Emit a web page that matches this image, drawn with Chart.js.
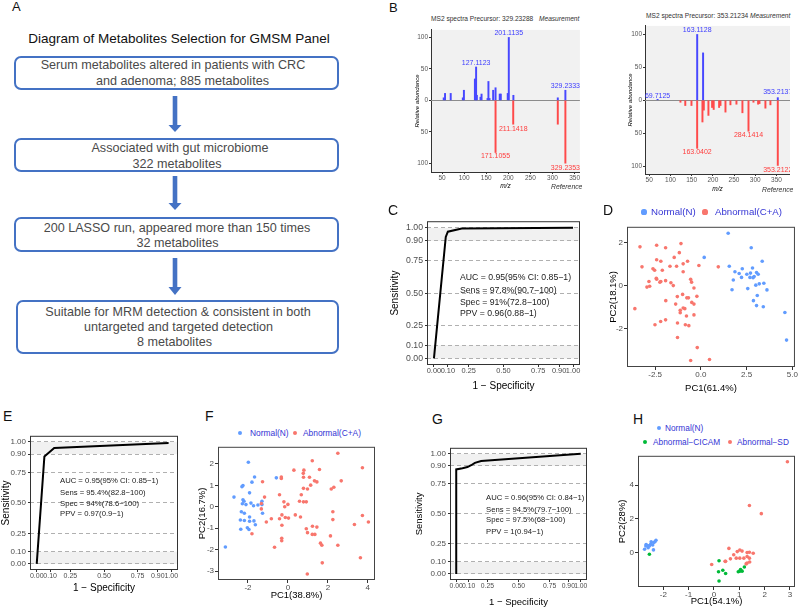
<!DOCTYPE html>
<html>
<head>
<meta charset="utf-8">
<script src="https://cdn.jsdelivr.net/npm/chart.js@4.4.1/dist/chart.umd.min.js"></script>
<style>
  body { margin: 0; }
  #fig { position: relative; width: 798px; height: 608px; background: #fff; overflow: hidden;
         font-family: "Liberation Sans", Arial, sans-serif; }
  #fig canvas { position: absolute; }
  .t { position: absolute; white-space: nowrap; line-height: 1; }
  .box { position: absolute; border: 2px solid #4472c4; border-radius: 7px; box-sizing: border-box; }
  .dot { position: absolute; border-radius: 50%; }
</style>
</head>
<body>
<div id="fig">
  <div class="box" style="left:14px;top:56px;width:325px;height:34px"></div>
  <div class="box" style="left:14px;top:138px;width:325px;height:34px"></div>
  <div class="box" style="left:14px;top:217px;width:325px;height:35px"></div>
  <div class="box" style="left:16px;top:300px;width:323px;height:54px"></div>
  <svg style="position:absolute;left:0;top:0" width="350" height="360">
    <g fill="#4472c4">
      <rect x="172.7" y="96" width="4.6" height="29"/><polygon points="168.5,125 181.5,125 175,132"/>
      <rect x="172.7" y="176" width="4.6" height="27"/><polygon points="168.5,203 181.5,203 175,210"/>
      <rect x="172.7" y="258" width="4.6" height="29"/><polygon points="168.5,287 181.5,287 175,295"/>
    </g>
  </svg>
</div>
<script>
// ---- data ----
// A: selection steps (text lines of each box)
const steps = [
  ['Serum metabolites altered in patients with CRC', 'and adenoma; 885 metabolites'],
  ['Associated with gut microbiome', '322 metabolites'],
  ['200 LASSO run, appeared more than 150 times', '32 metabolites'],
  ['Suitable for MRM detection & consistent in both', 'untargeted and targeted detection', '8 metabolites']
];

// B: MS2 spectra, [m/z, relative abundance]; reference peaks point down
const ms1Measured = [[53.8,4],[56.8,11],[69.6,11],[97,4],[99.5,16],[124.4,34],[127.1,53],[128.8,8],[137,5],
  [139.4,10],[153,3],[155,30],[157.4,3],[165.7,16],[171.1,20],[180.6,10],[183,10],[198.7,11],[201.1,100],
  [211.5,8],[312,4],[329.2,16]];
const ms1Reference = [[171.1,-83],[211.1,-38],[312,-38],[329.2,-100]];
const ms1Labels = [[201.1,107,'201.1135'],[127.1,60,'127.1123'],[329.2,22,'329.2333'],
  [211.1,-45,'211.1418'],[171.1,-89,'171.1055'],[329.2,-108,'329.2353']];

const ms2Measured = [[69.7,1.5],[163.1,100],[177,72],[353.2,4]];
const ms2Reference = [[123.6,-3],[135,-8],[149.6,-8],[163,-73],[175.5,-33],[178.7,-15],[189.6,-23],[198.3,-11],
  [202,-14],[214.8,-11],[218,-8],[229.8,-18],[241.5,-7],[255.7,-6],[269.8,-19],[284.1,-47],[295.8,-3],
  [306.8,-6],[310,-5],[324,-12],[335.8,-7],[353.2,-99]];
const ms2Labels = [[163.1,106,'163.1128'],[69.7,7,'69.7125'],[353.2,12,'353.2137'],
  [163,-79,'163.0402'],[284.1,-53.5,'284.1414'],[353.2,-106,'353.2122']];
const mzTicks = [50, 100, 150, 200, 250, 300, 350];
const abundTicks = [-100, -50, 0, 50, 100];

// C, E, G: ROC curves, [1 - specificity, sensitivity]
const rocTicks = [0, 0.1, 0.25, 0.5, 0.75, 0.9, 1];
const rocC = [[0,0],[0.085,0.93],[0.1,0.97],[0.2,0.995],[1,1]];
const rocE = [[0,0],[0.057,0.88],[0.13,0.95],[0.98,0.99]];
const rocG = [[0,0],[0,0.87],[0.05,0.88],[0.09,0.89],[0.12,0.905],[0.15,0.925],[0.2,0.94],[1,1]];
const rocCText = ['AUC = 0.95(95% CI: 0.85−1)', 'Sens = 97.8%(90.7−100)', 'Spec = 91%(72.8−100)', 'PPV = 0.96(0.88−1)'];
const rocEText = ['AUC = 0.95(95% CI: 0.85−1)', 'Sens = 95.4%(82.8−100)', 'Spec = 94%(78.6−100)', 'PPV = 0.97(0.9−1)'];
const rocGText = ['AUC = 0.96(95% CI: 0.84−1)', 'Sens = 94.5%(79.7−100)', 'Spec = 97.5%(68−100)', 'PPV = 1(0.94−1)'];

// D, F, H: PCA scores, [PC1, PC2]
const pcaDNormal = [[1.49,2.43],[2.75,1.76],[0.18,1.31],[3.35,1.13],[1.55,0.9],[2.26,0.78],[2.82,0.82],[1.86,0.64],
  [2.09,0.56],[2.51,0.53],[2.71,0.58],[3.04,0.61],[3.13,0.53],[2.91,0.42],[2.22,0.38],[2.68,0.38],[2.85,0.37],
  [1.77,0.26],[3.19,0.08],[3.44,0.11],[3.0,0.02],[1.7,-0.19],[2.56,-0.14],[3.61,-0.2],[3.08,-0.46],[2.87,-0.7],
  [3.04,-0.93],[3.41,-0.98],[4.59,-1.25],[4.68,-2.53]];
const pcaDAbnormal = [[-3.33,1.8],[-2.42,1.87],[-1.93,1.76],[-1.09,1.95],[-1.18,1.53],[-1.46,1.31],[-2.42,1.2],
  [-2.19,1.13],[-3.22,0.87],[-2.62,0.78],[-2.53,0.71],[-2.11,0.71],[-1.69,0.9],[-1.33,0.9],[-0.97,1.01],
  [-0.73,1.13],[-0.97,0.64],[-0.11,0.93],[0.95,0.87],[-2.42,0.3],[-2.44,0.34],[-2.19,0.19],[-2.24,0.16],[-1.93,0.23],
  [-2.84,0.19],[-2.95,-0.07],[-2.8,-0.03],[-1.64,0.13],[-1.51,0.0],[-0.56,0.29],[-0.51,0.16],[-0.38,-0.11],
  [-1.0,-0.41],[-1.29,-0.51],[-0.22,-0.5],[-0.77,-0.57],[-0.68,-0.57],[-1.92,-0.7],[-3.61,-1.07],[-1.38,-0.86],
  [-0.5,-0.78],[-0.38,-0.86],[-0.97,-1.04],[-0.88,-1.07],[-1.13,-1.26],[-1.13,-1.15],[-0.79,-1.41],[-0.38,-1.36],
  [-2.51,-1.82],[-2.2,-1.67],[-1.93,-1.59],[-1.28,-1.74],[-0.85,-1.82],[-0.66,-1.86],[-1.28,-2.41],[-0.2,-2.88],
  [-0.56,-3.48],[0.47,-3.43]];

const pcaFNormal = [[-1.98,2.08],[-1.67,1.39],[-0.58,1.35],[-1.8,1.15],[-2.25,0.99],[-2.3,0.94],[-1.92,0.65],
  [-2.7,0.45],[-2.25,0.33],[-2.2,0.26],[-2.28,0.14],[-2.1,0.1],[-1.85,0.17],[-1.72,0.05],[-1.5,0.08],[-1.3,0.26],
  [-1.3,0.1],[-2.33,-0.23],[-2.18,-0.3],[-2.38,-0.62],[-2.18,-0.64],[-1.92,-0.48],[-1.92,-0.68],[-1.7,-0.66],
  [-1.63,-0.84],[-2.36,-1.05],[-2.03,-0.98],[-1.95,-1.06],[-1.27,-0.3],[-3.13,-1.88]];
const pcaFAbnormal = [[2.5,2.5],[1.22,2.15],[3.73,1.82],[0.8,1.71],[1.58,1.74],[0.3,1.71],[0.77,1.56],[0.78,1.38],
  [1.08,1.38],[1.33,1.21],[1.45,1.16],[1.14,1.01],[2.67,1.21],[2.3,0.91],[2.17,0.83],[0.78,0.86],[0.98,0.83],
  [-0.33,1.39],[-0.33,1.32],[-1.27,1.17],[-1.17,0.45],[-0.42,0.56],[-1.33,0.15],[-1.33,-0.1],[-0.2,0.23],[0,0.11],
  [-0.16,0.0],[0.58,0.26],[0.67,0.56],[0.78,0.23],[0.92,0.23],[-0.3,-0.38],[-0.13,-0.5],[0.03,-0.53],[-0.42,-0.56],
  [-0.83,-0.56],[-1.08,-0.71],[0.37,-0.38],[0.63,-0.48],[-0.3,-0.86],[0.92,-1.03],[1.23,-0.91],[1.45,-0.95],
  [0.98,-1.21],[1.35,-1.29],[1.22,-1.29],[-0.31,-1.47],[-0.31,-1.59],[-0.67,-1.89],[1.63,-1.7],[1.7,-1.8],
  [2.13,-1.36],[2.5,-1.8],[1.72,-2.62],[0.97,-3.14],[2.25,-0.23],[2.25,-0.6],[3.33,-0.83],[3.73,-0.41],
  [4.03,-0.71],[3.63,-2.38],[-1.8,-1.26]];

const pcaHNormal = [[-2.68,0.48],[-2.69,0.39],[-2.6,0.29],[-2.5,0.49],[-2.42,0.45],[-2.48,0.64],[-2.38,0.6],
  [-2.29,0.73],[-2.33,0.64],[-2.55,0.39],[-2.39,0.16],[-2.74,0.2],[-2.62,0.42]];
const pcaHCicam = [[-2.55,-0.1],[0.2,-0.48],[0.18,-1.14],[0.2,-1.68],[0.35,-1.05],[0.46,-1.24],[0.96,-1.14],
  [1.02,-1.1],[1.11,-1.1],[1.05,-1.0],[1.2,-0.85]];
const pcaHSd = [[-0.09,-0.71],[0.59,0.25],[0.44,-0.52],[0.78,-0.13],[0.92,0.06],[1.02,0.15],[1.11,0.09],[1.31,0.0],
  [1.4,0.02],[1.55,-0.04],[1.31,-0.23],[1.18,-0.33],[1.4,-0.33],[1.41,-0.56],[1.31,-0.62],[1.27,-0.67],[1.02,-0.33],
  [0.65,-0.37],[0.88,-0.33],[0.46,-0.52],[1.4,2.79],[1.87,2.31],[2.9,5.39]];

// ---- helpers ----
const FF = '"Liberation Sans", Arial, sans-serif';
const BLUE = '#619CFF', RED = '#F8766D', GREEN = '#00BA38', LEGEND = '#3434d4';
const fig = document.getElementById('fig');

function addText(str, x, y, css, anchor) {
  const d = document.createElement('div');
  d.className = 't';
  d.textContent = str;
  d.style.cssText += css;
  d.style.left = x + 'px';
  d.style.top = y + 'px';
  const tx = anchor === 'c' ? '-50%' : anchor === 'r' ? '-100%' : '0';
  d.style.transform = 'translate(' + tx + ',-50%)';
  fig.appendChild(d);
}
function addDot(x, y, r, color) {
  const d = document.createElement('div');
  d.className = 'dot';
  d.style.cssText = 'left:' + (x - r) + 'px;top:' + (y - r) + 'px;width:' + 2 * r + 'px;height:' + 2 * r + 'px;background:' + color;
  fig.appendChild(d);
}

// drawing extras: plot background, shaded bands, zero line, frame, peak labels, notes
const deco = {
  id: 'deco',
  beforeDraw(chart, args, o) {
    const { ctx, chartArea: a, scales: { y } } = chart;
    ctx.save();
    if (o.bg) { ctx.fillStyle = o.bg; ctx.fillRect(a.left, a.top, a.width, a.height); }
    if (o.bands) {
      ctx.fillStyle = '#f1f1f1';
      o.bands.forEach(b => {
        const y0 = y.getPixelForValue(b[0]), y1 = y.getPixelForValue(b[1]);
        ctx.fillRect(a.left, y1, a.width, y0 - y1);
      });
    }
    ctx.restore();
  },
  beforeDatasetsDraw(chart, args, o) {
    if (!o.zeroLine) return;
    const { ctx, chartArea: a, scales: { y } } = chart;
    const py = Math.round(y.getPixelForValue(0)) + 0.5;
    ctx.save();
    ctx.strokeStyle = '#8c8c8c'; ctx.lineWidth = 1.2;
    ctx.beginPath(); ctx.moveTo(a.left, py); ctx.lineTo(a.right, py); ctx.stroke();
    ctx.restore();
  },
  afterDraw(chart, args, o) {
    const { ctx, chartArea: a, scales: { x, y } } = chart;
    ctx.save();
    if (o.frame) {
      ctx.strokeStyle = o.frame; ctx.lineWidth = 1;
      ctx.strokeRect(a.left + 0.5, a.top + 0.5, a.width - 1, a.height - 1);
    }
    if (o.peaks) {
      ctx.font = '7px ' + FF; ctx.textAlign = 'center'; ctx.textBaseline = 'middle';
      o.peaks.forEach(p => {
        ctx.fillStyle = p[1] > 0 ? '#3c3cff' : '#ff3c3c';
        ctx.fillText(p[2], x.getPixelForValue(p[0]), y.getPixelForValue(p[1]));
      });
    }
    if (o.note) {
      ctx.font = o.note.size + 'px ' + FF; ctx.fillStyle = '#1a1a1a';
      ctx.textAlign = 'left'; ctx.textBaseline = 'middle';
      o.note.lines.forEach((s, i) => ctx.fillText(s, x.getPixelForValue(o.note.x), y.getPixelForValue(o.note.y[i])));
    }
    ctx.restore();
  }
};
Chart.register(deco);

function axis(min, max, ticks, opt) {
  return {
    type: 'linear', min: min, max: max, offset: false,
    afterBuildTicks: s => { s.ticks = ticks.map(v => ({ value: v })); },
    ticks: { autoSkip: false, maxRotation: 0, padding: opt.pad || 0, color: opt.tickColor || '#4d4d4d',
             font: { family: FF, size: opt.tickSize }, callback: opt.fmt },
    grid: { offset: false, drawOnChartArea: !!opt.dash, color: '#b0b0b0', tickLength: opt.tickLen || 2,
            tickColor: '#333', tickWidth: 1 },
    border: { display: !!opt.axisLine, color: '#333', width: 1, dash: opt.dash || [] },
    title: { display: true, text: opt.title, color: '#000', padding: 0,
             font: { family: FF, size: opt.titleSize, style: opt.italic ? 'italic' : 'normal' } }
  };
}

// box = plot area [left, top, right, bottom] on the page
function makeChart(box, axisW, axisH, padTop, padRight, config) {
  const c = document.createElement('canvas');
  const left = box[0] - axisW, top = box[1] - padTop;
  const w = box[2] - left + padRight, h = box[3] + axisH - top;
  c.width = w; c.height = h;
  c.style.left = left + 'px'; c.style.top = top + 'px';
  c.style.width = w + 'px'; c.style.height = h + 'px';
  fig.appendChild(c);
  const o = config.options;
  o.responsive = false; o.animation = false; o.devicePixelRatio = 1;
  o.layout = { autoPadding: false, padding: { top: padTop, right: padRight, left: 0, bottom: 0 } };
  o.plugins = Object.assign({ legend: { display: false }, tooltip: { enabled: false } }, o.plugins);
  o.scales.x.afterFit = s => { s.height = axisH; };
  o.scales.y.afterFit = s => { s.width = axisW; };
  return new Chart(c, config);
}
const pts = arr => arr.map(p => ({ x: p[0], y: p[1] }));

// ---- A: flow diagram text ----
addText('A', 12, 6, 'font-size:13px;color:#111', 'l');
addText('Diagram of Metabolites Selection for GMSM Panel', 179, 39, 'font-size:13.5px;color:#111', 'c');
const stepPos = [
  [[173, 65], [182.5, 81]],
  [[180, 147.5], [177, 163.5]],
  [[177, 227.5], [177.5, 242.5]],
  [[178, 311.5], [178.5, 326.5], [174.5, 342]]
];
steps.forEach((lines, i) => lines.forEach((s, j) =>
  addText(s, stepPos[i][j][0], stepPos[i][j][1], 'font-size:12.6px;color:#4a4a4a', 'c')));

// ---- B: MS2 spectra ----
addText('B', 389, 7, 'font-size:13px;color:#111', 'l');
function spectrum(box, axisW, axisH, xr, yr, meas, ref, labels) {
  makeChart(box, axisW, axisH, 0, 0, {
    type: 'bar',
    data: { datasets: [
      { data: pts(meas), backgroundColor: '#4747ff', barThickness: 1.3, grouped: false },
      { data: pts(ref), backgroundColor: '#ff4a4a', barThickness: 1.3, grouped: false }
    ] },
    options: {
      scales: {
        x: axis(xr[0], xr[1], mzTicks, { tickSize: 6.5, tickColor: '#555', tickLen: 2, title: 'm/z', titleSize: 6.5, italic: true, axisLine: true }),
        y: axis(yr[0], yr[1], abundTicks, { tickSize: 6.5, tickColor: '#555', tickLen: 2, pad: 1, fmt: v => Math.abs(v),
                                            title: 'Relative abundance', titleSize: 6, italic: true, axisLine: true })
      },
      plugins: { deco: { bg: '#f1f1f1', zeroLine: true, peaks: labels } }
    }
  });
}
spectrum([431, 25, 580, 172], 17, 18, [25, 362], [-114, 112], ms1Measured, ms1Reference, ms1Labels);
spectrum([645, 21, 790, 174], 18, 19, [40, 382], [-112, 113], ms2Measured, ms2Reference, ms2Labels);
addText('MS2 spectra Precursor: 329.23288', 431, 19, 'font-size:6.6px;color:#333', 'l');
addText('Measurement', 539, 19, 'font-size:6.6px;color:#333;font-style:italic', 'l');
addText('MS2 spectra Precursor: 353.21234', 646, 15.5, 'font-size:6.6px;color:#333', 'l');
addText('Measurement', 750, 15.5, 'font-size:6.6px;color:#333;font-style:italic', 'l');
addText('Reference', 551, 187, 'font-size:6.8px;color:#333;font-style:italic', 'l');
addText('Reference', 762, 190, 'font-size:6.8px;color:#333;font-style:italic', 'l');

// ---- C, E, G: ROC ----
function roc(box, axisW, axisH, curve, text, note, sz) {
  makeChart(box, axisW, axisH, 2, 6, {
    type: 'scatter',
    data: { datasets: [{ data: pts(curve), showLine: true, borderColor: '#000', borderWidth: 2, pointRadius: 0, tension: 0 }] },
    options: {
      scales: {
        x: axis(-0.05, 1.05, rocTicks, { tickSize: sz.xtick, tickLen: 2, fmt: v => v.toFixed(2), title: '1 − Specificity', titleSize: sz.title }),
        y: axis(-0.05, 1.05, rocTicks, { tickSize: sz.tick, tickLen: 2, pad: 2, fmt: v => v.toFixed(2), dash: [4, 3], title: 'Sensitivity', titleSize: sz.title })
      },
      plugins: { deco: { bands: [[0, 0.1], [0.9, 1]], frame: '#333', note: { x: note.x, y: note.y, lines: text, size: sz.note } } }
    }
  });
}
roc([427, 216, 580, 365], 38, 27, rocC, rocCText, { x: 0.187, y: [0.615, 0.52, 0.43, 0.34] }, { tick: 8.7, xtick: 7.4, title: 10, note: 8.7 });
roc([30, 431, 178, 570], 30, 24, rocE, rocEText, { x: 0.173, y: [0.678, 0.583, 0.496, 0.409] }, { tick: 8, xtick: 7, title: 10, note: 7.7 });
roc([450, 443, 587, 580], 36, 28, rocG, rocGText, { x: 0.24, y: [0.633, 0.537, 0.449, 0.352] }, { tick: 8, xtick: 6.8, title: 9.5, note: 7.7 });
addText('C', 388, 210, 'font-size:14px;color:#111', 'l');
addText('E', 3, 416, 'font-size:14px;color:#111', 'l');
addText('G', 432, 419, 'font-size:14px;color:#111', 'l');

// ---- D, F, H: PCA ----
function pca(box, axisW, axisH, xr, yr, xt, yt, xfmt, xTitle, yTitle, groups) {
  makeChart(box, axisW, axisH, 2, 3, {
    type: 'scatter',
    data: { datasets: groups.map(g => ({ data: pts(g[0]), backgroundColor: g[1], borderWidth: 0, pointRadius: 1.8 })) },
    options: {
      scales: {
        x: axis(xr[0], xr[1], xt, { tickSize: 8, tickLen: 3, fmt: xfmt, title: xTitle, titleSize: 9.5 }),
        y: axis(yr[0], yr[1], yt, { tickSize: 8, tickLen: 3, pad: 1, fmt: v => String(v), title: yTitle, titleSize: 9.5 })
      },
      plugins: { deco: { frame: '#444' } }
    }
  });
}
pca([627, 223, 795, 367], 19, 27, [-4.04, 5.14], [-3.78, 2.73], [-2.5, 0, 2.5, 5], [-2, 0, 2], v => v.toFixed(1),
    'PC1(61.4%)', 'PC2(18.1%)', [[pcaDAbnormal, RED], [pcaDNormal, BLUE]]);
pca([218, 443, 375, 580], 21, 21, [-3.5, 4.36], [-3.42, 2.8], [-2, 0, 2, 4], [-3, -2, -1, 0, 1, 2], v => String(v),
    'PC1(38.8%)', 'PC2(16.7%)', [[pcaFAbnormal, RED], [pcaFNormal, BLUE]]);
pca([638, 452, 795, 587], 21, 20, [-3.0, 3.2], [-2.04, 5.74], [-2, -1, 0, 1, 2, 3], [0, 2, 4], v => String(v),
    'PC1(54.1%)', 'PC2(28%)', [[pcaHNormal, BLUE], [pcaHCicam, GREEN], [pcaHSd, RED]]);

addText('D', 603, 210, 'font-size:14px;color:#111', 'l');
addDot(644, 212, 2.6, BLUE); addText('Normal(N)', 651, 212, 'font-size:9.7px;color:' + LEGEND, 'l');
addDot(705, 212, 2.6, RED); addText('Abnormal(C+A)', 715, 212, 'font-size:9.7px;color:' + LEGEND, 'l');

addText('F', 205, 416, 'font-size:14px;color:#111', 'l');
addDot(240, 433, 2.3, BLUE); addText('Normal(N)', 250, 433, 'font-size:8.4px;color:' + LEGEND, 'l');
addDot(295, 433, 2.3, RED); addText('Abnormal(C+A)', 303, 433, 'font-size:8.4px;color:' + LEGEND, 'l');

addText('H', 633, 419, 'font-size:14px;color:#111', 'l');
addDot(659, 428, 2.2, BLUE); addText('Normal(N)', 665, 428, 'font-size:8.3px;color:' + LEGEND, 'l');
addDot(645, 442, 2.2, GREEN); addText('Abnormal−CICAM', 653, 442, 'font-size:8.3px;color:' + LEGEND, 'l');
addDot(730, 442, 2.2, RED); addText('Abnormal−SD', 737, 442, 'font-size:8.3px;color:' + LEGEND, 'l');
</script>
</body>
</html>
